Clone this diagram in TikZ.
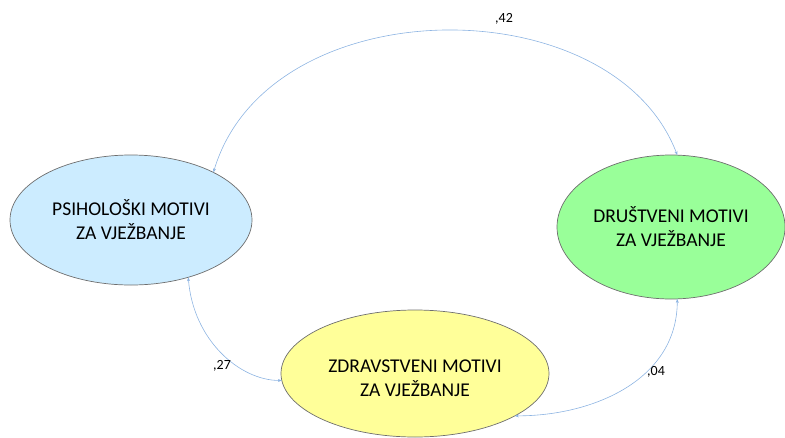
\documentclass[tikz,border=0pt]{standalone}
\usepackage{fontspec}
\setmainfont{Carlito}
\usetikzlibrary{shapes.geometric,arrows.meta}
\definecolor{bluefill}{RGB}{204,236,255}
\definecolor{greenfill}{RGB}{153,255,153}
\definecolor{yellowfill}{RGB}{255,255,153}
\definecolor{edgegray}{RGB}{110,110,110}
\definecolor{linkblue}{RGB}{141,180,226}
\tikzset{
  motive/.style={ellipse, draw=edgegray, line width=0.7pt, inner sep=0pt, outer sep=0pt,
    align=center, font=\fontsize{19.5}{24}\selectfont},
  motivetext/.style={align=center, inner sep=0pt, font=\fontsize{19.5}{24}\selectfont},
  corr/.style={draw=linkblue, line width=0.6pt, {Stealth[length=4pt,width=3pt]}-{Stealth[length=4pt,width=3pt]}},
  coef/.style={font=\fontsize{14}{16}\selectfont, inner sep=0pt}
}
\begin{document}
\begin{tikzpicture}[x=1pt,y=-1pt]
\useasboundingbox (0,0) rectangle (785,437);
\node[motive, fill=bluefill, minimum width=242pt, minimum height=130pt] (psi) at (131,220) {PSIHOLOŠKI MOTIVI\\ZA VJEŽBANJE};
\node[motive, fill=greenfill, minimum width=228pt, minimum height=144pt] (dru) at (671,227) {DRUŠTVENI MOTIVI\\ZA VJEŽBANJE};
\node[motive, fill=yellowfill, minimum width=268pt, minimum height=127pt] (zdr) at (415,373.5) {};
\node[motivetext] (zdrtext) at ([yshift=-5pt]zdr.center) {ZDRAVSTVENI MOTIVI\\ZA VJEŽBANJE};
\draw[corr] (psi.30) .. controls +(55,-185) and +(-65,-170) .. (dru.85);
\draw[corr] (psi.-45) .. controls +(5,63) and +(-42,0) .. (zdr.183);
\draw[corr] (zdr.-23) .. controls +(80,0) and +(0,80) .. (dru.-85);
\node[coef] (c42) at (504,19) {,42};
\node[coef] (c27) at (222,366) {,27};
\node[coef] (c04) at (656,372) {,04};
\end{tikzpicture}
\end{document}
